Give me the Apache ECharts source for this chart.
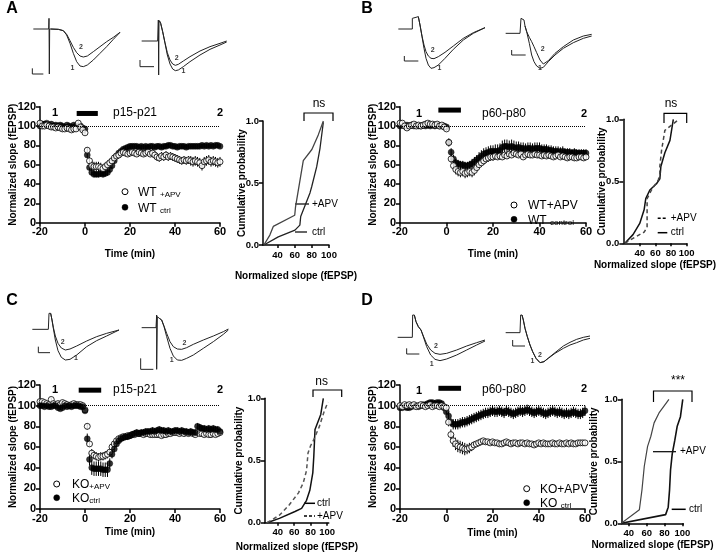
<!DOCTYPE html>
<html><head><meta charset="utf-8">
<script src="https://cdn.jsdelivr.net/npm/echarts/dist/echarts.min.js"></script>
<style>
html,body{margin:0;padding:0;background:#fff}
#wrap{position:relative;width:720px;height:554px;background:#fff}
.pn{position:absolute}
#pA{left:0;top:0;width:360px;height:288px}
#pB{left:360px;top:0;width:360px;height:288px}
#pC{left:0;top:288px;width:360px;height:266px}
#pD{left:360px;top:288px;width:360px;height:266px}
</style>
</head><body><div id="wrap"><div id="pA" class="pn"></div><div id="pB" class="pn"></div><div id="pC" class="pn"></div><div id="pD" class="pn"></div></div>
<script>
// ---------- DATA ----------
const time = [-20,-19,-18,-17,-16,-15,-14,-13,-12,-11,-10,-9,-8,-7,-6,-5,-4,-3,-2,-1,0,
 1,2,3,4,5,6,7,8,9,10,11,12,13,14,15,16,17,18,19,20,21,22,23,24,25,26,27,28,29,30,
 31,32,33,34,35,36,37,38,39,40,41,42,43,44,45,46,47,48,49,50,51,52,53,54,55,56,57,58,59,60];
const cumXTicks = [40,60,80,100];

// Panel A (WT, p15-p21)
const A_apv = [103,100,100,101,100,99,99,98,99,98,97,97,98,97,96,97,97,103,99,96,93,
 75,64,59,58,58,58,57,56,58,60, 62,64,67,69,70,72,73,72,71,72, 73,72,71,73,72,71,72,73,71,72,
 70,68,67,69,68,70,68,69,68,67, 66,65,64,65,64,65,64,63,64,63, 62,59,63,64,65,63,64,63,62,63];
const A_apv_err = [2,2,2,2,2,2,2,2,2,2,2,2,2,2,2,2,2,2,2,2,2,
 3,4,5,5,5,5,5,4,4,4, 4,4,4,3,3,3,3,3,3,3, 3,3,3,3,3,3,3,3,3,4,
 4,4,4,4,4,4,4,4,4,4, 4,4,4,4,4,4,5,5,5,5, 5,5,5,5,5,5,5,5,5,5];
const A_ctrl = [100,102,102,103,101,102,100,101,100,101,100,99,101,100,99,101,100,99,100,98,97,
 70,57,52,50,50,50,51,50,51,52, 55,59,64,69,72,74,76,77,78,79, 79,79,79,78,79,78,79,78,79,79,
 78,79,79,78,79,79,80,80,79,79, 78,79,79,79,78,79,79,79,79,79, 79,80,79,80,79,80,79,80,80,79];
const A_ctrl_err = [1,1,1,1,1,1,1,1,1,1,1,1,1,1,1,1,1,1,1,1,1,
 3,3,3,3,3,3,3,3,3,3, 3,3,3,3,2,2,2,2,2,2, 2,2,2,2,2,2,2,2,2,2,
 2,2,2,2,2,2,2,2,2,2, 2,2,2,2,2,2,2,2,2,2, 2,2,2,2,2,2,2,2,2,2];

// Panel B (WT, p60-p80)
const B_apv = [103,103,100,98,100,101,102,100,101,100,101,102,103,102,102,101,102,100,101,99,97,
 83,66,59,55,53,52,53,51,52,53, 52,54,57,60,62,64,66,67,68,68, 69,68,69,68,70,69,71,70,72,71,
 70,71,68,70,71,70,70,71,70,70, 69,70,69,70,69,68,69,70,68,69, 68,67,68,68,67,67,68,68,67,68];
const B_apv_err = [2,2,2,2,2,2,2,2,2,2,2,2,2,2,2,2,2,2,2,2,2,
 4,4,5,5,5,5,5,5,5,5, 5,5,4,4,4,4,4,4,4,4, 3,3,3,3,3,3,3,3,3,3,
 3,3,3,3,3,3,3,3,3,3, 3,3,3,3,3,3,3,3,3,3, 3,3,3,3,3,3,3,3,3,3];
const B_ctrl = [100,101,100,101,100,101,100,101,100,100,101,100,101,100,101,100,101,100,100,100,99,
 83,73,66,62,61,60,60,59,59,60, 61,63,65,67,69,71,72,73,74,74, 74,74,75,78,79,79,78,79,78,77,
 78,77,77,76,77,77,76,77,77,77, 76,76,76,75,75,74,74,74,73,74, 73,73,73,72,73,72,72,72,72,72];
const B_ctrl_err = [1,1,1,1,1,1,1,1,1,1,1,1,1,1,1,1,1,1,1,1,1,
 4,4,4,4,4,4,4,4,4,4, 5,5,5,6,6,6,6,6,6,6, 7,7,7,7,7,7,7,7,7,7,
 6,6,6,6,6,6,6,6,6,6, 5,5,5,5,5,5,5,5,5,5, 4,4,4,4,4,4,4,4,4,4];

// Panel C (KO, p15-p21)
const C_apv = [104,104,103,102,101,106,102,101,102,101,103,102,101,100,101,102,101,101,101,100,96,
 80,63,54,52,51,50,51,51,52,53, 55,60,63,66,68,69,70,70,71,71, 72,72,73,73,73,72,73,73,72,72,
 72,72,72,71,72,72,73,73,74,74, 74,73,74,73,74,73,74,73,72,74, 73,73,72,73,72,72,73,72,73,74];
const C_apv_err = [2,2,2,2,2,2,2,2,2,2,2,2,2,2,2,2,2,2,2,2,2,
 3,3,4,4,4,4,4,4,4,4, 3,3,2,2,2,2,2,2,2,2, 2,2,2,2,2,2,2,2,2,2,
 2,2,2,2,2,2,2,2,2,2, 2,2,2,2,2,2,2,2,2,2, 2,2,2,2,2,2,2,2,2,2];
const C_ctrl = [100,100,99,100,99,99,100,100,98,97,98,100,99,100,99,100,100,100,99,99,95,
 68,48,40,39,39,39,39,38,38,38, 44,53,58,63,66,68,69,70,70,71, 72,73,74,73,74,74,75,75,75,76,
 75,76,77,76,76,75,76,75,75,76, 76,75,76,75,75,74,75,74,74,80, 79,78,78,77,78,77,78,77,77,75];
const C_ctrl_err = [1,1,1,1,1,1,1,1,1,1,1,1,1,1,1,1,1,1,1,1,1,
 5,6,7,7,7,7,7,7,7,7, 5,4,3,3,3,3,3,3,3,3, 3,3,3,3,3,3,3,3,3,3,
 3,3,3,3,3,3,3,3,3,3, 3,3,3,3,3,3,3,3,3,3, 3,3,3,3,3,3,3,3,3,3];

// Panel D (KO, p60-p80)
const D_apv = [100,99,101,100,101,100,101,99,100,101,100,99,100,101,99,100,100,99,100,99,98,
 84,72,66,63,61,60,59,58,58,59, 60,62,63,64,65,66,65,65,64,65, 64,64,63,63,64,65,64,63,64,64,
 63,64,64,63,64,63,63,62,63,64, 63,64,63,63,63,64,63,63,64,63, 63,64,63,64,63,63,64,64,64,64];
const D_apv_err = [1,1,1,1,1,1,1,1,1,1,1,1,1,1,1,1,1,1,1,1,1,
 4,5,6,6,6,6,6,6,5,5, 4,3,2,2,2,2,2,2,2,2, 2,2,2,2,2,2,2,2,2,2,
 2,2,2,2,2,2,2,2,2,2, 2,2,2,2,2,2,2,2,2,2, 2,2,2,2,2,2,2,2,2,2];
const D_ctrl = [98,98,99,98,98,99,100,100,99,100,101,101,102,103,103,102,103,103,102,98,94,
 90,84,82,82,82,83,84,84,85,86, 87,88,89,90,91,92,93,93,94,95, 94,94,95,94,93,95,94,93,92,93,
 94,95,94,95,96,95,94,93,94,95, 94,93,92,93,94,95,94,93,94,93, 92,93,92,93,94,93,92,92,93,95];
const D_ctrl_err = [2,2,2,2,2,2,2,2,2,2,2,2,2,2,2,2,2,2,2,2,2,
 4,4,5,5,5,5,5,5,5,5, 5,5,5,5,5,5,5,5,5,5, 5,5,5,5,5,5,5,5,5,5,
 5,5,5,5,5,5,5,5,5,5, 5,5,5,5,5,5,5,5,5,5, 5,5,5,5,5,5,5,5,5,5];

// APV application windows (min)
const apvA = [-3.7, 5.7], apvB = [-3.5, 6.2], apvC = [-2.8, 7.2], apvD = [-3.4, 6.4];

// Cumulative distributions [normalized slope, probability]
const cumA_apv = [[24,0],[31,0.08],[35,0.15],[60,0.24],[61,0.31],[70,0.68],[80,0.77],[87.6,0.89],[93.4,1.0]];
const cumA_ctrl = [[24,0],[40.8,0.065],[60.3,0.12],[66,0.16],[67,0.23],[77.8,0.42],[79.8,0.47],[85.6,0.63],[89.5,0.78],[93.4,0.99]];
const cumB_ctrl = [[21,0],[31.4,0.07],[40,0.16],[45.6,0.27],[47.7,0.36],[52.9,0.43],[61.4,0.48],[65.7,0.52],[67,0.62],[72.1,0.73],[78.6,0.83],[82.9,1.0]];
const cumB_apv = [[21,0],[31.4,0.04],[45.6,0.09],[49.4,0.13],[49.4,0.36],[55,0.43],[63.6,0.51],[65.7,0.55],[65.7,0.62],[67.9,0.75],[72.1,0.91],[90,1.0]];
const cumC_ctrl = [[27,0],[42,0.035],[61,0.09],[69,0.115],[75,0.18],[79,0.26],[82.6,0.40],[83.8,0.53],[85.3,0.75],[92.3,0.87],[95.4,1.0]];
const cumC_apv = [[27,0],[42,0.06],[53.6,0.14],[65.2,0.24],[71,0.32],[75,0.42],[76.8,0.56],[80,0.62],[82.6,0.65],[90.4,0.77],[96.2,0.89],[101,0.97]];
const cumD_apv = [[31.5,0],[51.8,0.11],[54.7,0.27],[57.3,0.46],[61,0.62],[64.6,0.70],[68.3,0.81],[73.8,0.89],[84.9,1.0]];
const cumD_ctrl = [[31.5,0],[81.2,0.07],[84.1,0.13],[85.6,0.27],[86.7,0.43],[88.6,0.56],[91.5,0.67],[94.1,0.78],[97.8,0.86],[100.4,1.0]];

// Example fEPSP traces (arbitrary units: x time, y downward deflection)
const trA1_base = [[100,87],[146,87],[147,55],[148,222],[149,87],[152,87]];
const trA1_1 = [[152,87],[175,88],[190,92],[200,105],[210,130],[220,160],[230,185],[240,198],[250,200],[262,195],[280,180],[300,160],[320,140],[340,118],[360,97]];
const trA1_2 = [[152,87],[175,88],[190,92],[200,103],[210,122],[220,142],[230,158],[240,168],[250,171],[262,168],[280,155],[300,140],[320,125],[340,112],[360,97]];
const trA1_scale = [[97,205],[97,222],[130,222]];
const trA2_base = [[425,123],[428,123],[428,118],[429,126],[430,123],[473,123],[475,60],[476,225],[477,62],[478,62]];
const trA2_1 = [[478,62],[482,70],[488,95],[495,130],[502,165],[510,192],[518,207],[526,212],[535,210],[550,200],[570,185],[600,165],[630,148],[660,135],[680,126]];
const trA2_2 = [[478,62],[482,70],[488,95],[495,128],[502,158],[510,180],[518,192],[526,196],[535,193],[550,183],[570,170],[600,153],[630,140],[660,130],[680,123]];
const trA2_scale = [[420,180],[420,200],[462,200]];
const trA_labels = [[243,140,'2'],[217,203,'1'],[530,175,'2'],[550,212,'1']];

const trB1_base = [[115,87],[157,87],[157,55],[160,50],[175,50]];
const trB1_1 = [[175,50],[180,75],[186,110],[192,145],[198,175],[205,195],[213,205],[222,203],[235,195],[255,175],[280,148],[310,120],[340,100],[375,83]];
const trB1_2 = [[175,50],[180,75],[186,108],[192,135],[198,155],[205,168],[213,175],[222,176],[235,170],[255,157],[280,138],[310,115],[340,98],[375,83]];
const trB1_scale = [[133,168],[133,183],[175,183]];
const trB2_base = [[437,100],[480,100],[483,55],[488,50],[492,60],[495,78]];
const trB2_1 = [[495,78],[500,95],[508,130],[515,165],[522,185],[530,198],[540,205],[550,202],[565,185],[585,165],[610,145],[640,128],[670,115],[695,108]];
const trB2_2 = [[495,78],[500,95],[508,112],[515,125],[522,140],[530,158],[540,180],[550,192],[565,182],[585,160],[610,140],[640,120],[670,108],[695,103]];
const trB2_scale = [[455,150],[455,165],[497,165]];
const trB_labels = [[218,150,'2'],[238,205,'1'],[548,148,'2'],[540,205,'1']];

const trC1_base = [[97,148],[145,148],[147,100],[152,100]];
const trC1_1 = [[152,100],[156,120],[160,145],[166,180],[174,212],[184,232],[196,240],[210,238],[230,225],[260,200],[290,182],[320,168],[357,150]];
const trC1_2 = [[152,100],[156,120],[160,142],[166,168],[174,190],[184,204],[196,210],[210,207],[230,198],[260,183],[290,170],[320,160],[357,150]];
const trC1_scale = [[115,200],[115,218],[150,218]];
const trC2_base = [[425,143],[468,143],[470,105],[470,268],[472,110],[475,105],[478,115]];
const trC2_1 = [[478,115],[485,120],[492,140],[500,170],[510,205],[520,228],[532,240],[545,241],[560,235],[580,225],[610,205],[640,185],[670,163],[685,150]];
const trC2_2 = [[478,115],[485,120],[492,138],[500,160],[510,185],[520,200],[532,207],[545,208],[560,203],[580,193],[610,180],[640,168],[670,155],[685,147]];
const trC2_scale = [[422,235],[422,268],[460,268]];
const trC_labels = [[188,185,'2'],[228,235,'1'],[553,190,'2'],[515,240,'1']];

const trD1_base = [[113,172],[157,172],[158,105],[163,105]];
const trD1_1 = [[163,105],[168,125],[175,140],[183,150],[190,170],[200,200],[212,225],[225,238],[240,242],[260,237],[290,225],[320,210],[350,195],[375,183]];
const trD1_2 = [[163,105],[168,125],[175,140],[183,150],[190,168],[200,192],[212,210],[225,220],[240,223],[260,220],[290,210],[320,198],[350,188],[375,180]];
const trD1_scale = [[140,205],[140,222],[178,222]];
const trD2_base = [[437,158],[480,158],[482,105],[486,105]];
const trD2_1 = [[486,105],[490,120],[495,145],[502,170],[510,195],[518,215],[528,235],[540,248],[552,245],[565,235],[585,220],[610,205],[630,195],[650,188],[670,180],[690,175]];
const trD2_2 = [[486,105],[490,120],[495,145],[502,170],[510,195],[518,215],[528,235],[540,248],[552,245],[565,234],[585,218],[610,198],[630,187],[650,178],[670,172],[690,168]];
const trD2_scale = [[458,180],[458,198],[495,198]];
const trD_labels = [[517,243,'1'],[540,225,'2'],[228,198,'2'],[215,252,'1']];

// ---------- HELPERS ----------
const FONT = '"Liberation Sans", Arial, sans-serif';
let OX = 0, OY = 0;
const nameStyle = {color:'#000', fontFamily:FONT, fontWeight:'bold', fontSize:10};
function aLine(){ return {show:true, onZero:false, lineStyle:{color:'#000', width:1.5}}; }
function aTick(extra){ return Object.assign({show:true, inside:false, length:4, lineStyle:{color:'#000', width:1.5}}, extra||{}); }
function timeX(gap){
  return {type:'value', gridIndex:0, min:-20, max:60, interval:20, axisLine:aLine(), axisTick:aTick(), splitLine:{show:false},
    axisLabel:{color:'#000', fontFamily:FONT, fontWeight:'bold', fontSize:11, margin:4},
    name:'Time (min)', nameLocation:'middle', nameGap:gap, nameMoveOverlap:false, nameTextStyle:nameStyle};
}
function timeY(){
  return {type:'value', gridIndex:0, min:0, max:120, interval:20, axisLine:aLine(), axisTick:aTick(), splitLine:{show:false},
    axisLabel:{color:'#000', fontFamily:FONT, fontWeight:'bold', fontSize:11, margin:4},
    name:'Normalized slope (fEPSP)', nameLocation:'middle', nameGap:22, nameMoveOverlap:false, nameTextStyle:nameStyle};
}
function cumX(xmin, xmax, gap){
  return {type:'value', gridIndex:1, min:xmin, max:xmax, axisLine:aLine(), splitLine:{show:false},
    axisTick:aTick({customValues:cumXTicks, length:3}),
    axisLabel:{color:'#000', fontFamily:FONT, fontWeight:'bold', fontSize:9.5, margin:5, customValues:cumXTicks},
    name:'Normalized slope (fEPSP)', nameLocation:'middle', nameGap:gap, nameMoveOverlap:false, nameTextStyle:nameStyle};
}
function cumY(gap){
  return {type:'value', gridIndex:1, min:0, max:1, interval:0.5, axisLine:aLine(), axisTick:aTick(), splitLine:{show:false},
    axisLabel:{color:'#000', fontFamily:FONT, fontWeight:'bold', fontSize:9.5, margin:4, formatter:v=>v.toFixed(1)},
    name:'Cumulative probability', nameLocation:'middle', nameGap:gap, nameMoveOverlap:false, nameTextStyle:nameStyle};
}
function errRender(params, api){
  const x = api.value(0), y = api.value(1), e = api.value(2);
  const a = api.coord([x, y + e]), b = api.coord([x, y - e]);
  return {type:'line', shape:{x1:a[0], y1:a[1], x2:b[0], y2:b[1]}, style:{stroke:'#000', lineWidth:1}};
}
function barRender(params, api){
  const a = api.coord([api.value(0), api.value(2)]), b = api.coord([api.value(1), api.value(2)]);
  return {type:'rect', shape:{x:a[0], y:a[1]-2.5, width:b[0]-a[0], height:5}, style:{fill:'#000'}};
}
const legendRich = {
  m:{fontSize:12, lineHeight:14, fontFamily:FONT, fill:'#000', color:'#000', verticalAlign:'bottom'},
  s:{fontSize:8, lineHeight:6, fontFamily:FONT, fill:'#000', color:'#000', verticalAlign:'bottom'}
};
function txt(x, y, s, size, weight){
  return {type:'text', x:x-OX, y:y-OY, silent:true, style:{text:s, fill:'#000', font:(weight||'normal')+' '+size+'px '+FONT,
    textAlign:'center', textVerticalAlign:'middle', align:'center', verticalAlign:'middle'}};
}
function ltxt(x, y, s, size){
  return {type:'text', x:x-OX, y:y-OY, silent:true, style:{text:s, fill:'#000', font:'normal '+size+'px '+FONT,
    textAlign:'left', textVerticalAlign:'middle', align:'left', verticalAlign:'middle'}};
}
function rtxt(x, y, s){
  return {type:'text', x:x-OX, y:y-OY, silent:true, style:{text:s, rich:legendRich, fill:'#000', font:'normal 12px '+FONT,
    textAlign:'left', textVerticalAlign:'middle', align:'left', verticalAlign:'middle'}};
}
function dot(x, y, open){
  return {type:'circle', silent:true, shape:{cx:x-OX, cy:y-OY, r:3},
    style: open ? {fill:'#fff', stroke:'#000', lineWidth:1} : {fill:'#000', stroke:'#000', lineWidth:0.5}};
}
function pl(points, dash, w){
  return {type:'polyline', silent:true, shape:{points:points.map(p=>[p[0]-OX, p[1]-OY])},
    style:{stroke:'#000', fill:null, lineWidth:w||1.2, lineDash: dash ? [3,2] : null}};
}

function buildPanel(elId, ox, oy, cfg){
  OX = ox; OY = oy;
  const chart = echarts.init(document.getElementById(elId), null, {renderer:'canvas'});
  const grid = [
    {left:cfg.tg[0]-ox, top:cfg.tg[1]-oy, width:cfg.tg[2], height:cfg.tg[3]},
    {left:cfg.cg[0]-ox, top:cfg.cg[1]-oy, width:cfg.cg[2], height:cfg.cg[3]},
    {left:0, top:0, width:360, height:cfg.trH}
  ];
  const xAxis = [timeX(cfg.xGap), cumX(cfg.cx[0], cfg.cx[1], cfg.cxGap), {type:'value', gridIndex:2, min:0, max:1080, show:false}];
  const yAxis = [timeY(), cumY(cfg.cyGap), {type:'value', gridIndex:2, min:cfg.trY[0], max:cfg.trY[1], inverse:true, show:false}];
  const series = [];
  series.push({type:'custom', xAxisIndex:0, yAxisIndex:0, renderItem:barRender, silent:true, z:3,
    data:[[cfg.apv[0], cfg.apv[1], cfg.barLevel]], encode:{x:[0,1], y:2}});
  series.push({type:'custom', xAxisIndex:0, yAxisIndex:0, renderItem:errRender, silent:true, z:1,
    data: time.map((t,i)=>[t, cfg.ctrl[i], cfg.ctrlErr[i]]), encode:{x:0, y:1}});
  series.push({type:'custom', xAxisIndex:0, yAxisIndex:0, renderItem:errRender, silent:true, z:1,
    data: time.map((t,i)=>[t, cfg.apvVals[i], cfg.apvErr[i]]), encode:{x:0, y:1}});
  series.push({type:'scatter', name:cfg.names[0], xAxisIndex:0, yAxisIndex:0, symbol:'circle', symbolSize:6, z: cfg.openTop ? 3 : 2,
    itemStyle:{color:'#fff', borderColor:'#000', borderWidth:1},
    data: time.map((t,i)=>[t, cfg.apvVals[i]]),
    markLine:{silent:true, symbol:'none', label:{show:false}, lineStyle:{color:'#000', type:'dotted', width:1}, data:[{yAxis:100}]}});
  series.push({type:'scatter', name:cfg.names[1], xAxisIndex:0, yAxisIndex:0, symbol:'circle', symbolSize:6, z: cfg.openTop ? 2 : 3,
    itemStyle:{color:'#000', borderColor:'#000', borderWidth:0.5},
    data: time.map((t,i)=>[t, cfg.ctrl[i]])});
  cfg.cum.forEach(c => series.push({type:'line', xAxisIndex:1, yAxisIndex:1, symbol:'none', silent:true, z:2,
    lineStyle:{color:c.color, width:c.w, type: c.dashed ? [4,3] : 'solid'}, data:c.data}));
  cfg.traces.forEach(d => series.push({type:'line', xAxisIndex:2, yAxisIndex:2, symbol:'none', silent:true,
    lineStyle:{color:'#222', width:1}, data:d}));
  series.push({type:'scatter', xAxisIndex:2, yAxisIndex:2, symbolSize:1, silent:true,
    itemStyle:{color:'rgba(0,0,0,0)'}, data:cfg.trLabels,
    label:{show:true, position:'inside', formatter:p=>p.value[2], color:'#000', fontFamily:FONT, fontWeight:'bold', fontSize:7}});
  chart.setOption({animation:false, backgroundColor:'#fff',
    grid:grid, xAxis:xAxis, yAxis:yAxis, series:series, graphic:cfg.graphics()});
}

// ---------- PANELS ----------
buildPanel('pA', 0, 0, {
  tg:[33,106.7,187,116], cg:[263,121,66,124], xGap:27, cx:[23,100], cxGap:26, cyGap:15.3,
  trH:140, trY:[0,420], apv:apvA, barLevel:113, openTop:true,
  apvVals:A_apv, apvErr:A_apv_err, ctrl:A_ctrl, ctrlErr:A_ctrl_err, names:['WT +APV','WT ctrl'],
  cum:[{data:cumA_ctrl, color:'#222', w:1.3}, {data:cumA_apv, color:'#444', w:1.3}],
  traces:[trA1_base, trA1_1, trA1_2, trA1_scale, trA2_base, trA2_1, trA2_2, trA2_scale], trLabels:trA_labels,
  graphics:()=>[
    txt(12, 9, 'A', 16, 'bold'),
    txt(55, 113, '1', 11, 'bold'), txt(135, 113, 'p15-p21', 12), txt(220, 113, '2', 11, 'bold'),
    dot(125, 191.7, true), rtxt(138, 191.7, '{m|WT} {s|+APV}'),
    dot(125, 207.3, false), rtxt(138, 207.3, '{m|WT} {s|ctrl}'),
    pl([[304,121],[304,113],[333,113],[333,121]]), txt(319, 104, 'ns', 12),
    pl([[295,204],[309,204]]), ltxt(312, 204, '+APV', 10),
    pl([[295,232],[307,232]]), ltxt(312, 232, 'ctrl', 10)
  ]
});
buildPanel('pB', 360, 0, {
  tg:[397,106.7,189,116], cg:[623.3,119.3,63.4,124], xGap:26.3, cx:[19,100], cxGap:17.4, cyGap:16.5,
  trH:140, trY:[0,420], apv:apvB, barLevel:116.5, openTop:true,
  apvVals:B_apv, apvErr:B_apv_err, ctrl:B_ctrl, ctrlErr:B_ctrl_err, names:['WT+APV','WT control'],
  cum:[{data:cumB_ctrl, color:'#111', w:1.5}, {data:cumB_apv, color:'#444', w:1.5, dashed:true}],
  traces:[trB1_base, trB1_1, trB1_2, trB1_scale, trB2_base, trB2_1, trB2_2, trB2_scale], trLabels:trB_labels,
  graphics:()=>[
    txt(367, 9, 'B', 16, 'bold'),
    txt(419, 114, '1', 11, 'bold'), txt(504, 113.5, 'p60-p80', 12), txt(584, 113.5, '2', 11, 'bold'),
    dot(514, 205, true), rtxt(528, 205, '{m|WT+APV}'),
    dot(514, 219.3, false), rtxt(528, 219.3, '{m|WT} {s|control}'),
    pl([[664,123],[664,113.3],[686.7,113.3],[686.7,123]]), txt(671, 103.5, 'ns', 12),
    pl([[657.7,218.3],[667.3,218.3]], true, 1.5), ltxt(670.7, 218.3, '+APV', 10),
    pl([[657.7,232.7],[667.3,232.7]], false, 1.5), ltxt(670.7, 232.7, 'ctrl', 10)
  ]
});
buildPanel('pC', 0, 288, {
  tg:[33,385,187,124], cg:[265,398.3,65,124.4], xGap:18, cx:[24.5,102], cxGap:19.6, cyGap:21,
  trH:122, trY:[24,390], apv:apvC, barLevel:115, openTop:false,
  apvVals:C_apv, apvErr:C_apv_err, ctrl:C_ctrl, ctrlErr:C_ctrl_err, names:['KO +APV','KOctrl'],
  cum:[{data:cumC_ctrl, color:'#111', w:1.5}, {data:cumC_apv, color:'#555', w:1.5, dashed:true}],
  traces:[trC1_base, trC1_1, trC1_2, trC1_scale, trC2_base, trC2_1, trC2_2, trC2_scale], trLabels:trC_labels,
  graphics:()=>[
    txt(12, 301, 'C', 16, 'bold'),
    txt(55, 390, '1', 11, 'bold'), txt(135, 390, 'p15-p21', 12), txt(220, 390, '2', 11, 'bold'),
    dot(56.7, 484, true), rtxt(72, 484, '{m|KO}{s|+APV}'),
    dot(56.7, 497.7, false), rtxt(72, 497.7, '{m|KO}{s|ctrl}'),
    pl([[313,397],[313,390],[341.7,390],[341.7,397]]), txt(321.7, 381.7, 'ns', 12),
    pl([[304,503.3],[315,503.3]], false, 1.5), ltxt(317, 503.3, 'ctrl', 10),
    pl([[304,516],[315,516]], true, 1.5), ltxt(317, 516, '+APV', 10)
  ]
});
buildPanel('pD', 360, 288, {
  tg:[397,385,188,124], cg:[621.7,399.3,61.6,124], xGap:19, cx:[32,101], cxGap:17.4, cyGap:22.7,
  trH:122, trY:[24,390], apv:apvD, barLevel:116.8, openTop:true,
  apvVals:D_apv, apvErr:D_apv_err, ctrl:D_ctrl, ctrlErr:D_ctrl_err, names:['KO+APV','KO ctrl'],
  cum:[{data:cumD_ctrl, color:'#111', w:1.6}, {data:cumD_apv, color:'#444', w:1.2}],
  traces:[trD1_base, trD1_1, trD1_2, trD1_scale, trD2_base, trD2_1, trD2_2, trD2_scale], trLabels:trD_labels,
  graphics:()=>[
    txt(367, 301, 'D', 16, 'bold'),
    txt(419, 391, '1', 11, 'bold'), txt(504, 390, 'p60-p80', 12), txt(584, 389, '2', 11, 'bold'),
    dot(526.7, 488.7, true), rtxt(540, 488.7, '{m|KO+APV}'),
    dot(526.7, 502.7, false), rtxt(540, 502.7, '{m|KO} {s|ctrl}'),
    pl([[653.5,402],[653.5,391],[692,391],[692,402]]), txt(678, 381, '***', 12),
    pl([[653,451.7],[676,451.7]]), ltxt(680, 451.7, '+APV', 10),
    pl([[671.7,509.3],[685.7,509.3]], false, 1.5), ltxt(689, 509.3, 'ctrl', 10)
  ]
});
</script></body></html>
